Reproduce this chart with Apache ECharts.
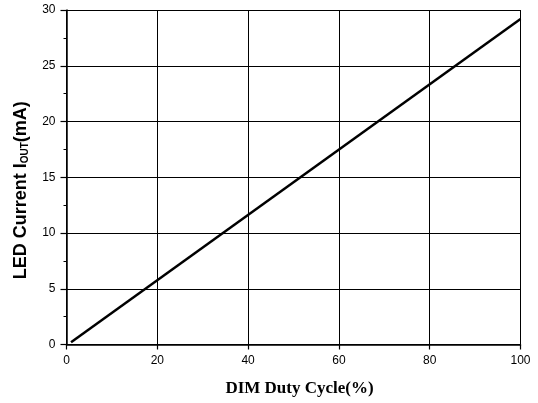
<!DOCTYPE html>
<html><head><meta charset="utf-8">
<script src="https://cdn.jsdelivr.net/npm/echarts@6/dist/echarts.min.js"></script>
<style>html,body{margin:0;padding:0;background:#fff}#c{width:538px;height:403px}</style>
</head><body><div id="c"></div>
<script>
const xValues = [1, 100];
const yValues = [0.2, 29.2];
const xTicks = [0, 20, 40, 60, 80, 100];
const yTicks = [0, 5, 10, 15, 20, 25, 30];

const chart = echarts.init(document.getElementById('c'));
chart.setOption({
  animation: false,
  grid: {left: 66.5, right: 17.5, top: 10, bottom: 58.5},
  xAxis: {
    type: 'value', min: 0, max: 100, interval: 20,
    axisLine: {lineStyle: {color: '#000', width: 1.5}},
    axisTick: {inside: false, length: 5, lineStyle: {color: '#000', width: 1.2}},
    axisLabel: {color: '#000', fontFamily: 'Liberation Sans', fontSize: 12, margin: 10},
    splitLine: {show: true, lineStyle: {color: '#000', width: 1}},
    name: 'DIM Duty Cycle(%)', nameLocation: 'middle', nameGap: 36,
    nameTextStyle: {color: '#000', fontFamily: 'Liberation Serif', fontWeight: 'bold', fontSize: 17, padding: [0, 0, 0, 12]}
  },
  yAxis: {
    type: 'value', min: 0, max: 30, interval: 5,
    axisLine: {show: true, lineStyle: {color: '#000', width: 1.5}},
    axisTick: {inside: false, length: 6, lineStyle: {color: '#000', width: 1.2}},
    minorTick: {show: true, splitNumber: 2, length: 3, lineStyle: {color: '#000', width: 1}},
    axisLabel: {color: '#000', fontFamily: 'Liberation Sans', fontSize: 12, margin: 11},
    splitLine: {show: true, lineStyle: {color: '#000', width: 1}},
    name: '{b|LED Current I}{s|OUT}{b|(mA)}', nameLocation: 'middle', nameGap: 36,
    nameTextStyle: {
      color: '#000',
      padding: [0, 26, 0, 0],
      rich: {
        b: {fontFamily: 'Liberation Sans', fontWeight: 'bold', fontSize: 18, color: '#000'},
        s: {fontFamily: 'Liberation Sans', fontWeight: 'bold', fontSize: 10, color: '#000', verticalAlign: 'bottom', padding: [8, 0, 0, 0]}
      }
    }
  },
  series: [{
    type: 'line', showSymbol: false,
    data: xValues.map((x, i) => [x, yValues[i]]),
    lineStyle: {color: '#000', width: 2.5}
  }]
});
</script></body></html>
